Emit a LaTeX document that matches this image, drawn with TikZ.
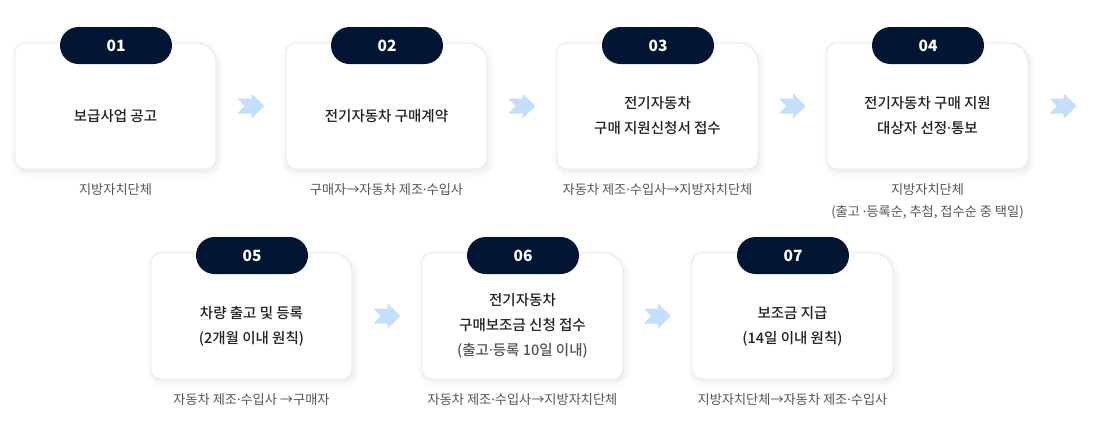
\documentclass[tikz,border=0pt]{standalone}
\usepackage{fontspec}
\setmainfont{Noto Sans CJK KR}
\newfontfamily\medfont{Noto Sans CJK KR}[UprightFont=* Medium]
\newfontfamily\dotfont{Noto Sans}
\newcommand\md{{\dotfont ·}}
\usetikzlibrary{calc,shadows.blur}
\definecolor{navy}{HTML}{021634}
\definecolor{cardline}{HTML}{E8E8E8}
\definecolor{maintxt}{HTML}{222222}
\definecolor{captxt}{HTML}{555555}
\definecolor{arrowblue}{HTML}{C3DEFF}
\tikzset{
  cardshape/.style={draw=cardline, line width=0.8pt, fill=white,
    blur shadow={shadow xshift=1.5pt, shadow yshift=-2.5pt, shadow blur radius=7pt, shadow opacity=10, shadow blur steps=10}},
  boxnode/.style={minimum width=201pt, minimum height=126pt, inner sep=0pt, draw=none},
  pill/.style={fill=navy, text=white, minimum width=112pt, minimum height=37pt, rounded corners=18.5pt, inner sep=0pt, font=\fontsize{15.5}{18}\selectfont\bfseries},
  maintext/.style={text=maintxt, align=center, inner sep=0pt, font=\fontsize{14.5}{25}\selectfont\medfont},
  captext/.style={text=captxt, align=center, inner sep=0pt, anchor=north, font=\fontsize{13.2}{22}\selectfont},
  arrowshape/.style={fill=arrowblue, draw=none}
}
\newcommand\stepcard[6]{%
  \begin{scope}[shift={(#2,-#3)}]
    \draw[cardshape] (0,-10) arc(180:90:10) -- (181,0) arc(90:0:20) -- (201,-116) arc(0:-90:10) -- (10,-126) arc(-90:-180:10) -- cycle;
    \node[boxnode] (b#1) at (100.5,-63) {};
    \node[pill] (p#1) at (101,-2.5) {0#1};
    \node[maintext] (t#1) at (100.5,-73) {#4};
    \node[captext] (c#1) at (100.5,-140) {#5};
  \end{scope}%
}
\newcommand\flowarrow[1]{%
  \fill[arrowshape] ($#1+(-13.5,0)$) ++(0,7.5) -- ++(14,0) -- ++(0,5) -- ++(13,-12.5) -- ++(-13,-12.5) -- ++(0,5) -- ++(-14,0) -- ++(7,7.5) -- cycle;%
}
\begin{document}
\begin{tikzpicture}[x=1pt,y=1pt]
\useasboundingbox (0,0) rectangle (1093,-421);
\stepcard{1}{15}{43}{보급사업 공고}{지방자치단체}{}
\stepcard{2}{286}{43}{전기자동차 구매계약}{구매자→자동차 제조\md 수입사}{}
\stepcard{3}{557}{43}{전기자동차\\구매 지원신청서 접수}{자동차 제조\md 수입사→지방자치단체}{}
\stepcard{4}{827}{43}{전기자동차 구매 지원\\대상자 선정\md 통보}{지방자치단체\\(출고 \md 등록순, 추첨, 접수순 중 택일)}{}
\stepcard{5}{151}{253}{차량 출고 및 등록\\(2개월 이내 원칙)}{자동차 제조\md 수입사 →구매자}{}
\stepcard{6}{422}{253}{전기자동차\\구매보조금 신청 접수\\{\color{captxt}(출고\md 등록 10일 이내)}}{자동차 제조\md 수입사→지방자치단체}{}
\stepcard{7}{692}{253}{보조금 지급\\(14일 이내 원칙)}{지방자치단체→자동차 제조\md 수입사}{}
\coordinate (end4) at ($(b4.east)+(35,0)$);
\flowarrow{($(b1.east)!0.5!(b2.west)$)}
\flowarrow{($(b2.east)!0.5!(b3.west)$)}
\flowarrow{($(b3.east)!0.5!(b4.west)$)}
\flowarrow{(end4)}
\flowarrow{($(b5.east)!0.5!(b6.west)$)}
\flowarrow{($(b6.east)!0.5!(b7.west)$)}
\end{tikzpicture}
\end{document}
